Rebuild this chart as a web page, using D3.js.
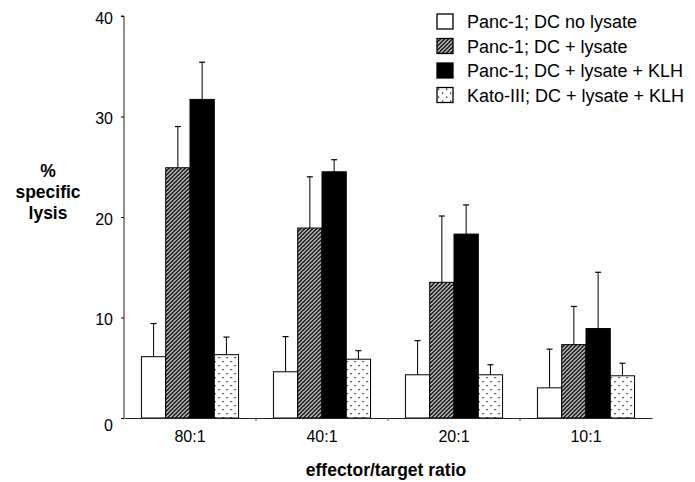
<!DOCTYPE html>
<html>
<head>
<meta charset="utf-8">
<script src="https://cdn.jsdelivr.net/npm/d3@7"></script>
<style>
  body { margin: 0; background: #fff; }
  svg { display: block; font-family: "Liberation Sans", Arial, sans-serif; }
</style>
</head>
<body>
<svg id="chart" width="695" height="482"></svg>
<script>
const ratios = ['80:1', '40:1', '20:1', '10:1']
const seriesNames = [
  'Panc-1; DC no lysate',
  'Panc-1; DC + lysate',
  'Panc-1; DC + lysate + KLH',
  'Kato-III; DC + lysate + KLH'
]
const fills = ['#fff', 'url(#hatch)', '#000', 'url(#dots)']

// mean % specific lysis, per series, per ratio
const noLysate   = [6.1, 4.6, 4.3, 3.0]
const lysate     = [24.9, 18.9, 13.5, 7.3]
const lysateKLH  = [31.7, 24.5, 18.3, 8.9]
const katoKLH    = [6.3, 5.85, 4.3, 4.2]
// upper end of error bar
const noLysateErr  = [9.4, 8.1, 7.7, 6.85]
const lysateErr    = [29.0, 24.0, 20.1, 11.1]
const lysateKLHErr = [35.4, 25.7, 21.2, 14.5]
const katoKLHErr   = [8.05, 6.7, 5.3, 5.45]

const yTicks = [0, 10, 20, 30, 40]

const means = [noLysate, lysate, lysateKLH, katoKLH]
const errs = [noLysateErr, lysateErr, lysateKLHErr, katoKLHErr]

const svg = d3.select('#chart')
const defs = svg.append('defs')

const hatch = defs.append('pattern')
  .attr('id', 'hatch')
  .attr('patternUnits', 'userSpaceOnUse')
  .attr('width', 4).attr('height', 4)
hatch.append('rect').attr('width', 4).attr('height', 4).attr('fill', '#fff')
hatch.append('path')
  .attr('d', 'M-1,1 l2,-2 M0,4 l4,-4 M3,5 l2,-2')
  .attr('stroke', '#000').attr('stroke-width', 1.6)

const dots = defs.append('pattern')
  .attr('id', 'dots')
  .attr('patternUnits', 'userSpaceOnUse')
  .attr('width', 8).attr('height', 8)
dots.append('rect').attr('width', 8).attr('height', 8).attr('fill', '#fff')
dots.append('rect').attr('x', 1).attr('y', 1).attr('width', 1.3).attr('height', 1.3).attr('fill', '#000')
dots.append('rect').attr('x', 5).attr('y', 5).attr('width', 1.3).attr('height', 1.3).attr('fill', '#000')

const x0 = 124, x1 = 652, yTop = 16, yBottom = 418

const x = d3.scaleBand()
  .domain(ratios)
  .range([x0, x1])
  .paddingInner(0.264)
  .paddingOuter(0.132)

const xs = d3.scaleBand()
  .domain(d3.range(seriesNames.length))
  .range([0, x.bandwidth()])

const y = d3.scaleLinear()
  .domain([0, 40])
  .range([yBottom, yTop])

// bars
const groups = svg.append('g').selectAll('g')
  .data(ratios)
  .join('g')
  .attr('transform', d => `translate(${x(d)},0)`)

groups.selectAll('rect')
  .data((r, i) => means.map((s, k) => ({k, v: s[i], e: errs[k][i]})))
  .join('rect')
  .attr('x', d => xs(d.k))
  .attr('y', d => y(d.v))
  .attr('width', xs.bandwidth())
  .attr('height', d => y(0) - y(d.v))
  .attr('fill', d => fills[d.k])
  .attr('stroke', '#000')
  .attr('stroke-width', 1)

// error bars (upper only)
groups.selectAll('g.err')
  .data((r, i) => means.map((s, k) => ({k, v: s[i], e: errs[k][i]})))
  .join('g')
  .attr('class', 'err')
  .each(function(d) {
    const g = d3.select(this)
    const cx = xs(d.k) + xs.bandwidth() / 2
    g.append('line')
      .attr('x1', cx).attr('x2', cx)
      .attr('y1', y(d.v)).attr('y2', y(d.e))
      .attr('stroke', '#000').attr('stroke-width', 1)
    g.append('line')
      .attr('x1', cx - 3).attr('x2', cx + 3)
      .attr('y1', y(d.e)).attr('y2', y(d.e))
      .attr('stroke', '#000').attr('stroke-width', 1.2)
  })

// y axis
const yAxis = svg.append('g')
  .attr('transform', `translate(${x0},0)`)
  .call(d3.axisLeft(y).tickValues(yTicks).tickSize(3).tickPadding(8))
yAxis.select('.domain').attr('d', `M-3,${yTop}H0V${yBottom}`).attr('stroke', '#222')
yAxis.selectAll('text')
  .attr('font-size', 16)
  .attr('font-family', '"Liberation Sans", Arial, sans-serif')
  .attr('fill', '#000')
  .attr('dy', d => d === 0 ? '0.75em' : '0.45em')

// x axis
const xAxis = svg.append('g')
  .attr('transform', `translate(0,${yBottom})`)
  .call(d3.axisBottom(x).tickSize(0).tickPadding(13))
xAxis.select('.domain').attr('stroke', '#222')
xAxis.selectAll('text')
  .attr('font-size', 16)
  .attr('font-family', '"Liberation Sans", Arial, sans-serif')
  .attr('fill', '#000')

// small separator ticks between groups
xAxis.selectAll('line.sep')
  .data(ratios.slice(1))
  .join('line')
  .attr('class', 'sep')
  .attr('x1', d => x(d) - x.step() * x.paddingInner() / 2)
  .attr('x2', d => x(d) - x.step() * x.paddingInner() / 2)
  .attr('y1', 0).attr('y2', 3)
  .attr('stroke', '#555')

// axis titles
svg.append('text')
  .attr('x', 386).attr('y', 476)
  .attr('text-anchor', 'middle')
  .attr('font-size', 17.5).attr('font-weight', 'bold')
  .text('effector/target ratio')

svg.append('text')
  .attr('x', 48).attr('y', 177)
  .attr('text-anchor', 'middle')
  .attr('font-size', 17.5).attr('font-weight', 'bold')
  .selectAll('tspan')
  .data(['%', 'specific', 'lysis'])
  .join('tspan')
  .attr('x', 48)
  .attr('dy', (d, i) => i === 0 ? 0 : 21)
  .text(d => d)

// legend
const legend = svg.append('g').attr('transform', 'translate(437,14)')
const item = legend.selectAll('g')
  .data(seriesNames)
  .join('g')
  .attr('transform', (d, i) => `translate(0,${i * 24.5})`)
item.append('rect')
  .attr('width', 16).attr('height', 15)
  .attr('fill', (d, i) => fills[i])
  .attr('stroke', '#000').attr('stroke-width', 1.3)
item.append('text')
  .attr('x', 30).attr('y', 14)
  .attr('font-size', 18)
  .text(d => d)
</script>
</body>
</html>
